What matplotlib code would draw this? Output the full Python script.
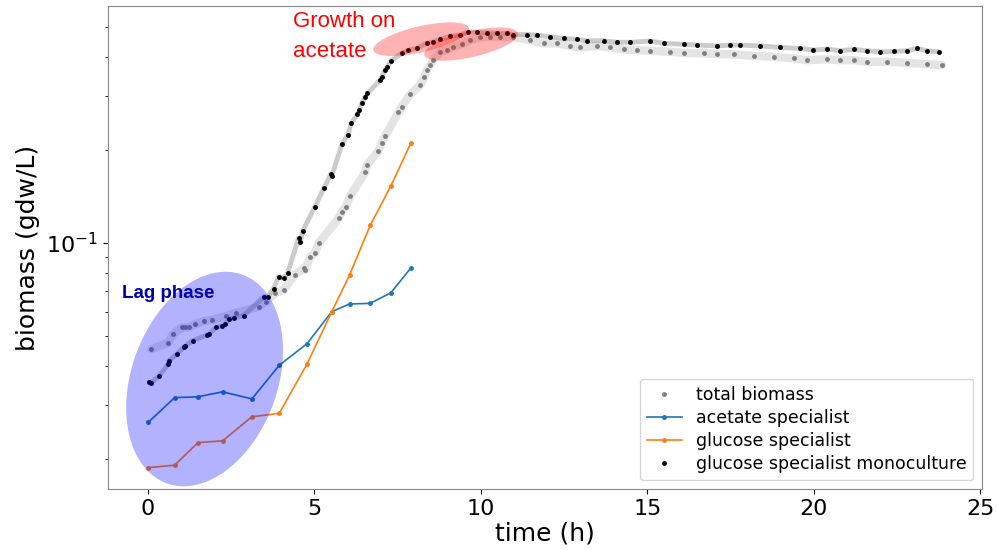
import numpy as np
import matplotlib.pyplot as plt
from matplotlib.patches import Ellipse
from matplotlib.transforms import ScaledTranslation
from matplotlib.ticker import NullFormatter

# total biomass of the co-culture (gray dots)
t_total = [0.11, 0.62, 0.76, 1.03, 1.13, 1.23, 1.43, 1.70, 1.93, 2.36, 2.66, 3.33,
           3.55, 3.83, 4.08, 4.41, 4.68, 4.73, 4.88, 5.03, 5.13, 5.73, 5.83, 5.95,
           6.08, 6.53, 6.58, 6.93, 7.03, 7.13, 7.53, 7.63, 7.88, 8.18, 8.30, 8.38,
           8.48, 8.56, 8.78, 8.98, 9.18, 9.44, 9.68, 9.98, 10.29, 10.59, 10.98,
           11.49, 11.89, 12.29, 12.69, 12.99, 13.49, 13.89, 14.29, 14.69, 15.09,
           15.69, 16.09, 16.69, 17.09, 17.59, 18.19, 18.79, 19.39, 19.80, 20.40,
           20.80, 21.20, 21.60, 22.20, 22.80, 23.40, 23.85]
total_biomass = [0.0453, 0.0476, 0.0507, 0.0533, 0.0533, 0.0533, 0.0547, 0.0559,
                 0.0564, 0.0581, 0.0595, 0.0622, 0.0646, 0.0687, 0.0705, 0.0788,
                 0.0828, 0.0818, 0.0903, 0.0930, 0.0998, 0.1202, 0.1262, 0.1310,
                 0.1422, 0.1693, 0.1788, 0.1985, 0.2112, 0.2220, 0.2650, 0.2761,
                 0.3026, 0.3243, 0.3436, 0.3629, 0.3770, 0.3909, 0.4157, 0.4214,
                 0.4318, 0.4406, 0.4537, 0.4631, 0.4655, 0.4655, 0.4631, 0.4539,
                 0.4430, 0.4430, 0.4345, 0.4298, 0.4345, 0.4298, 0.4235, 0.4214,
                 0.4192, 0.4159, 0.4129, 0.4111, 0.4091, 0.4081, 0.4037, 0.4008,
                 0.3960, 0.3909, 0.3932, 0.3909, 0.3909, 0.3862, 0.3862, 0.3832,
                 0.3796, 0.3767]

# glucose specialist grown alone (black dots)
t_mono = [0.05, 0.09, 0.35, 0.62, 0.64, 0.89, 1.08, 1.13, 1.35, 1.78, 1.85, 2.06,
          2.23, 2.33, 2.45, 2.60, 2.88, 3.48, 3.60, 3.78, 3.93, 4.08, 4.20, 4.53,
          4.58, 4.66, 5.01, 5.30, 5.50, 5.53, 5.83, 6.01, 6.11, 6.30, 6.36, 6.43,
          6.53, 6.60, 6.98, 7.03, 7.13, 7.20, 7.31, 7.63, 7.83, 8.08, 8.38, 8.58,
          8.78, 9.08, 9.38, 9.63, 9.89, 10.19, 10.49, 10.79, 10.98, 11.39, 11.69,
          12.09, 12.49, 12.89, 13.19, 13.69, 14.09, 14.49, 15.09, 15.49, 16.09,
          16.49, 17.09, 17.49, 17.79, 18.39, 18.99, 19.59, 19.99, 20.40, 20.80,
          21.20, 21.60, 22.00, 22.40, 22.80, 23.10, 23.40, 23.75]
mono_biomass = [0.0355, 0.0352, 0.0372, 0.0406, 0.0416, 0.0438, 0.0460, 0.0464,
                0.0483, 0.0504, 0.0508, 0.0534, 0.0540, 0.0547, 0.0566, 0.0573,
                0.0582, 0.0670, 0.0670, 0.0711, 0.0778, 0.0769, 0.0798, 0.1035,
                0.1005, 0.1096, 0.1305, 0.1511, 0.1672, 0.1651, 0.2085, 0.2237,
                0.2439, 0.2612, 0.2692, 0.2831, 0.2973, 0.3050, 0.3370, 0.3452,
                0.3631, 0.3722, 0.3891, 0.4111, 0.4214, 0.4266, 0.4430, 0.4482,
                0.4560, 0.4677, 0.4711, 0.4831, 0.4808, 0.4797, 0.4774, 0.4774,
                0.4731, 0.4731, 0.4710, 0.4655, 0.4596, 0.4560, 0.4516, 0.4516,
                0.4466, 0.4466, 0.4508, 0.4430, 0.4398, 0.4375, 0.4345, 0.4375,
                0.4375, 0.4345, 0.4298, 0.4266, 0.4214, 0.4246, 0.4192, 0.4235,
                0.4192, 0.4159, 0.4170, 0.4192, 0.4266, 0.4192, 0.4159]

# species in the co-culture
t_spec = [0.02, 0.81, 1.51, 2.25, 3.13, 3.95, 4.78, 5.53, 6.06, 6.68, 7.30, 7.90]
acetate_spec = [0.0263, 0.0316, 0.0318, 0.0330, 0.0313, 0.0402, 0.0472, 0.0600,
                0.0635, 0.0638, 0.0690, 0.0830]
glucose_spec = [0.01875, 0.0191, 0.0226, 0.0229, 0.0274, 0.0281, 0.0405, 0.0600,
                0.0787, 0.114, 0.153, 0.2104]

fig = plt.figure(figsize=(9.97, 5.5), dpi=100)
ax = fig.add_subplot(111)
fig.subplots_adjust(left=0.108, right=0.985, top=0.989, bottom=0.111)

# spread bands (drawn as wide translucent strokes)
ax.plot(t_total, total_biomass, color='#cfcfcf', lw=6, alpha=0.55,
        solid_capstyle='round', solid_joinstyle='round', zorder=1)
ax.plot(t_mono, mono_biomass, color='#8c8c8c', lw=3.5, alpha=0.45,
        solid_capstyle='round', solid_joinstyle='round', zorder=1)

ax.plot(t_total, total_biomass, '.', color='gray', ms=5, zorder=3, label='total biomass')
ax.plot(t_spec, acetate_spec, '.-', color='tab:blue', ms=5, lw=1.2, zorder=2,
        label='acetate specialist')
ax.plot(t_spec, glucose_spec, '.-', color='tab:orange', ms=5, lw=1.2, zorder=2,
        label='glucose specialist')
ax.plot(t_mono, mono_biomass, '.', color='black', ms=5, zorder=3,
        label='glucose specialist monoculture')

ax.set_yscale('log')
ax.set_xlim(-1.2, 25.05)
ax.set_ylim(0.0160, 0.585)
ax.yaxis.set_minor_formatter(NullFormatter())
ax.set_xticks([0, 5, 10, 15, 20, 25])

ax.set_xlabel('time (h)', fontsize=18, labelpad=2)
ax.set_ylabel('biomass (gdw/L)', fontsize=18)
ax.tick_params(labelsize=16)
for s in ax.spines.values():
    s.set_color('#888888')

# highlight ellipses: centre in data units, size in inches
def blob(t, v, w, h, ang, color):
    tr = fig.dpi_scale_trans + ScaledTranslation(t, v, ax.transData)
    e = Ellipse((0, 0), w, h, angle=ang, transform=tr, facecolor=color,
                edgecolor='none', alpha=0.3, zorder=4)
    ax.add_patch(e)

blob(1.71, 0.0363, 2.22, 1.46, 70, 'blue')
blob(8.21, 0.457, 0.98, 0.26, 13, 'red')
blob(9.71, 0.4406, 0.96, 0.26, 13, 'red')

ax.text(-0.77, 0.0664, 'Lag phase', color='#0000aa', fontsize=13.5,
        fontweight='bold', family=['Liberation Sans Narrow', 'Liberation Sans'],
        va='baseline', zorder=5)
ax.text(4.37, 0.565, 'Growth on\nacetate', color='red', fontsize=16,
        family=['Liberation Sans Narrow', 'Liberation Sans'], va='top',
        linespacing=1.55, zorder=5)

ax.legend(loc='lower right', fontsize=12.5, labelspacing=0.3)

plt.savefig('out.png', dpi=100)
